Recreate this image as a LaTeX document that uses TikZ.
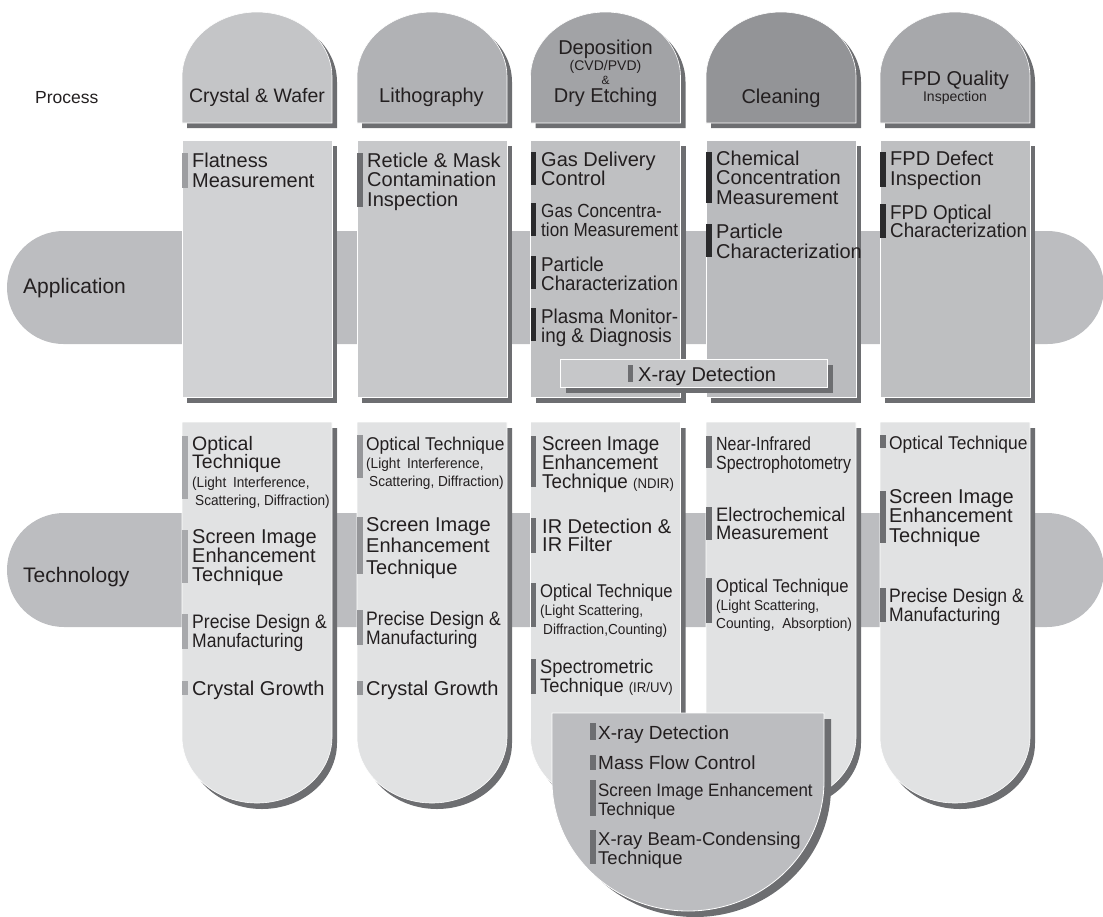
\documentclass[tikz,border=0pt]{standalone}
\usepackage{fontspec}
\setmainfont{Liberation Sans}
\newfontfamily\cnd[FakeStretch=0.9]{Liberation Sans}
\newfontfamily\cndb[FakeStretch=0.94]{Liberation Sans}
\newfontfamily\cndc[FakeStretch=0.84]{Liberation Sans}
\newcommand\fs[1]{\fontsize{#1}{#1}\selectfont}
\newcommand\blk[2]{\vtop{\baselineskip=#1pt\lineskiplimit=-100pt\relax#2}}
\newcommand\tline[1]{\hbox{#1}}
\newcommand\dome[4]{(#1,#4) -- (#1,#3+65) .. controls (#1,#3+29.1) and (#1+#2*0.2239,#3) .. (#1+#2*0.5,#3) .. controls (#1+#2*0.7761,#3) and (#1+#2,#3+29.1) .. (#1+#2,#3+65) -- (#1+#2,#4) -- cycle}
\newcommand\ushape[5]{(#1,#3) -- (#1,#4-#5) .. controls (#1,#4-0.4477*#5) and (#1+#2*0.2239,#4) .. (#1+#2*0.5,#4) .. controls (#1+#2*0.7761,#4) and (#1+#2,#4-0.4477*#5) .. (#1+#2,#4-#5) -- (#1+#2,#3) -- cycle}
\definecolor{ink}{HTML}{231F20}
\definecolor{shd}{HTML}{6D6E71}
\definecolor{band}{HTML}{BCBDC0}
\definecolor{hA}{HTML}{C4C5C7}
\definecolor{hB}{HTML}{B1B2B5}
\definecolor{hC}{HTML}{A2A3A6}
\definecolor{hD}{HTML}{939497}
\definecolor{hE}{HTML}{A7A8AB}
\definecolor{aA}{HTML}{D1D2D4}
\definecolor{aB}{HTML}{C7C8CA}
\definecolor{aC}{HTML}{BFC0C2}
\definecolor{aD}{HTML}{BABBBE}
\definecolor{aE}{HTML}{BEBFC1}
\definecolor{tcol}{HTML}{E1E2E3}
\definecolor{xbox}{HTML}{C6C7C9}
\definecolor{xdome}{HTML}{BCBDC0}
\definecolor{mA}{HTML}{9D9EA1}
\definecolor{mB}{HTML}{6D6E71}
\definecolor{mC}{HTML}{2A2A2C}
\definecolor{tA}{HTML}{A8A9AC}
\definecolor{tB}{HTML}{959699}
\definecolor{tC}{HTML}{6D6E71}
\begin{document}
\begin{tikzpicture}[x=1pt,y=-1pt,
  txt/.style={anchor=base west,inner sep=0pt,text=ink,font=\fs{20}},
  ctr/.style={anchor=base,inner sep=0pt,text=ink,font=\fs{20}},
  face/.style={draw=white,line width=0.6pt}]
\useasboundingbox (0,0) rectangle (1103,916);
% bands
\fill[band,rounded corners=56.5pt] (7,231) rectangle (1104,344);
\fill[band,rounded corners=57pt] (7,513) rectangle (1104,627);
% header domes
\fill[shd] \dome{187}{150}{17}{128};
\fill[hA,face] \dome{182}{150}{12}{123};
\fill[shd] \dome{362}{150}{17}{128};
\fill[hB,face] \dome{357}{150}{12}{123};
\fill[shd] \dome{535.5}{150}{17}{128};
\fill[hC,face] \dome{530.5}{150}{12}{123};
\fill[shd] \dome{711}{150}{17}{128};
\fill[hD,face] \dome{706}{150}{12}{123};
\fill[shd] \dome{885}{150}{17}{128};
\fill[hE,face] \dome{880}{150}{12}{123};
% application columns
\fill[shd] (187,146) rectangle (337,403);
\fill[aA,face] (182,140) rectangle (332,397);
\fill[shd] (362,146) rectangle (512,403);
\fill[aB,face] (357,140) rectangle (507,397);
\fill[shd] (535.5,146) rectangle (685.5,403);
\fill[aC,face] (530.5,140) rectangle (680.5,397);
\fill[shd] (711,146) rectangle (861,403);
\fill[aD,face] (706,140) rectangle (856,397);
\fill[shd] (885,146) rectangle (1035,403);
\fill[aE,face] (880,140) rectangle (1030,397);
% technology columns
\fill[shd] \ushape{187}{150}{428}{809}{66};
\fill[tcol,face] \ushape{182}{150}{422}{803}{66};
\fill[shd] \ushape{362}{150}{428}{809}{66};
\fill[tcol,face] \ushape{357}{150}{422}{803}{66};
\fill[shd] \ushape{535.5}{150}{428}{809}{66};
\fill[tcol,face] \ushape{530.5}{150}{422}{803}{66};
\fill[shd] \ushape{711}{150}{428}{809}{66};
\fill[tcol,face] \ushape{706}{150}{422}{803}{66};
\fill[shd] \ushape{885}{150}{428}{809}{66};
\fill[tcol,face] \ushape{880}{150}{422}{803}{66};
% x-ray box (application)
\fill[shd] (566,365) rectangle (833,393);
\fill[xbox,draw=white,line width=0.8pt] (560,359) rectangle (827,387);
% x-ray dome (technology)
\fill[shd] \ushape{559}{272}{719}{917}{130};
\fill[xdome,draw=white,line width=0.8pt] \ushape{552}{272}{713}{911}{130};
% header texts
\node[txt,font=\fs{17.5}] (proc) at (35,103) {Process};
\node[ctr,font=\fs{19.5}] (h1t) at (257,102) {Crystal \& Wafer};
\node[ctr] (h2t) at (431.5,102) {Lithography};
\node[ctr] (h3a) at (605.5,54) {Deposition};
\node[ctr,font=\fs{14}] (h3b) at (605.5,70.5) {(CVD/PVD)};
\node[ctr,font=\fs{12}] (h3c) at (605.5,84.5) {\&};
\node[ctr] (h3d) at (605.5,102) {Dry Etching};
\node[ctr] (h4t) at (781,103) {Cleaning};
\node[ctr] (h5a) at (955,85) {FPD Quality};
\node[ctr,font=\fs{14}] (h5b) at (955,101) {Inspection};
\node[txt,font=\fs{21}] (appl) at (23,293) {Application};
\node[txt,font=\fs{21}] (tech) at (23,582) {Technology};
% application col 1
\fill[mA] (182,153) rectangle (187.5,188);
\node[txt] (ap1a) at (192,167) {\blk{20}{\tline{Flatness}\tline{Measurement}}};
% application col 2
\fill[mB] (357,153) rectangle (362.5,207);
\node[txt] (ap2a) at (367,167) {\blk{19.7}{\tline{Reticle \& Mask}\tline{Contamination}\tline{Inspection}}};
% application col 3
\fill[mC] (530.5,152) rectangle (536,185);
\node[txt] (ap3a) at (541,166) {\blk{19.5}{\tline{Gas Delivery}\tline{Control}}};
\fill[mC] (530.5,203) rectangle (536,236);
\node[txt,font=\cnd\fs{19}] (ap3b) at (541,217) {\blk{19}{\tline{Gas Concentra-}\tline{tion Measurement}}};
\fill[mC] (530.5,256) rectangle (536,289);
\node[txt,font=\cndb\fs{20}] (ap3c) at (541,271) {\blk{19}{\tline{Particle}\tline{Characterization}}};
\fill[mC] (530.5,308) rectangle (536,341);
\node[txt,font=\cndb\fs{20}] (ap3d) at (541,323) {\blk{19}{\tline{Plasma Monitor-}\tline{ing \& Diagnosis}}};
% application col 4
\fill[mC] (706,152) rectangle (711.5,203);
\node[txt] (ap4a) at (716,165) {\blk{19.5}{\tline{Chemical}\tline{Concentration}\tline{Measurement}}};
\fill[mC] (706,224) rectangle (711.5,257);
\node[txt] (ap4b) at (716,238) {\blk{20}{\tline{Particle}\tline{Characterization}}};
% application col 5
\fill[mC] (880,152) rectangle (885.5,187);
\node[txt] (ap5a) at (890,165) {\blk{20}{\tline{FPD Defect}\tline{Inspection}}};
\fill[mC] (880,204) rectangle (885.5,238);
\node[txt,font=\cndb\fs{20}] (ap5b) at (890,219) {\blk{18.5}{\tline{FPD Optical}\tline{Characterization}}};
% application x-ray
\fill[mB] (628,365) rectangle (633,382);
\node[txt] (apx) at (638,381) {X-ray Detection};
% technology col 1
\fill[tA] (182,436) rectangle (187.5,499);
\node[txt,font=\fs{19.5}] (tc1a) at (192,450) {\blk{18.7}{\tline{Optical}\tline{Technique}}};
\node[txt,font=\cndb\fs{14.5}] (tc1b) at (192,487) {\blk{18}{\tline{(Light\hspace{3pt} Interference,}\tline{\hspace{3pt}Scattering, Diffraction)}}};
\fill[tA] (182,530) rectangle (187.5,583);
\node[txt] (tc1c) at (192,543) {\blk{19}{\tline{Screen Image}\tline{Enhancement}\tline{Technique}}};
\fill[tA] (182,614) rectangle (187.5,649);
\node[txt,font=\cnd\fs{19.5}] (tc1d) at (192,628) {\blk{19}{\tline{Precise Design \&}\tline{Manufacturing}}};
\fill[tA] (182,681) rectangle (187.5,695);
\node[txt] (tc1e) at (192,695) {Crystal Growth};
% technology col 2
\fill[tB] (357,435) rectangle (362.5,478);
\node[txt,font=\cndb\fs{18.5}] (tc2a) at (366,450) {Optical Technique};
\node[txt,font=\cndb\fs{14.5}] (tc2b) at (366,468) {\blk{18.5}{\tline{(Light\hspace{3pt} Interference,}\tline{\hspace{3pt}Scattering, Diffraction)}}};
\fill[tB] (357,517) rectangle (362.5,574);
\node[txt] (tc2c) at (366,531) {\blk{21.5}{\tline{Screen Image}\tline{Enhancement}\tline{Technique}}};
\fill[tB] (357,610) rectangle (362.5,645);
\node[txt,font=\cnd\fs{19.5}] (tc2d) at (366,625) {\blk{19}{\tline{Precise Design \&}\tline{Manufacturing}}};
\fill[tB] (357,681) rectangle (362.5,695);
\node[txt] (tc2e) at (366,695) {Crystal Growth};
% technology col 3
\fill[tC] (530.5,436) rectangle (536,487);
\node[txt,font=\cndb\fs{20}] (tc3a) at (542,450) {\blk{19}{\tline{Screen Image}\tline{Enhancement}\tline{Technique {\fs{14}(NDIR)}}}};
\fill[tC] (530.5,518) rectangle (536,553);
\node[txt] (tc3b) at (542,533) {\blk{18.5}{\tline{IR Detection \&}\tline{IR Filter}}};
\fill[tC] (530.5,583) rectangle (536,627);
\node[txt,font=\cnd\fs{18.5}] (tc3c) at (540,597) {Optical Technique};
\node[txt,font=\cndb\fs{14.5}] (tc3d) at (540,615) {\blk{19}{\tline{(Light Scattering,}\tline{\hspace{3pt}Diffraction,Counting)}}};
\fill[tC] (530.5,659) rectangle (536,694);
\node[txt,font=\cndb\fs{19.5}] (tc3e) at (540,673) {\blk{19}{\tline{Spectrometric}\tline{Technique {\fs{14}(IR/UV)}}}};
% technology col 4
\fill[tC] (706,436) rectangle (711.5,468);
\node[txt,font=\cndc\fs{19}] (tc4a) at (716,450) {\blk{19}{\tline{Near-Infrared}\tline{Spectrophotometry}}};
\fill[tC] (706,507) rectangle (711.5,540);
\node[txt,font=\cndb\fs{19.5}] (tc4b) at (716,521) {\blk{18.5}{\tline{Electrochemical}\tline{Measurement}}};
\fill[tC] (706,578) rectangle (711.5,623);
\node[txt,font=\cnd\fs{18.5}] (tc4c) at (716,592) {Optical Technique};
\node[txt,font=\cndb\fs{14.5}] (tc4d) at (716,610) {\blk{18}{\tline{(Light Scattering,}\tline{Counting,\hspace{4pt} Absorption)}}};
% technology col 5
\fill[tC] (880,435) rectangle (885.5,448);
\node[txt,font=\cndb\fs{18.5}] (tc5a) at (889,449) {Optical Technique};
\fill[tC] (880,491) rectangle (885.5,543);
\node[txt] (tc5b) at (889,503) {\blk{19.5}{\tline{Screen Image}\tline{Enhancement}\tline{Technique}}};
\fill[tC] (880,588) rectangle (885.5,622);
\node[txt,font=\cnd\fs{19.5}] (tc5c) at (889,602) {\blk{19}{\tline{Precise Design \&}\tline{Manufacturing}}};
% x-ray dome texts
\fill[tC] (590,723) rectangle (595.5,740);
\node[txt,font=\fs{19}] (xd1) at (598,739) {X-ray Detection};
\fill[tC] (590,755) rectangle (595.5,770);
\node[txt,font=\fs{19}] (xd2) at (598,769) {Mass Flow Control};
\fill[tC] (590,780) rectangle (595.5,816);
\node[txt,font=\cndb\fs{18}] (xd3) at (598,796) {\blk{19}{\tline{Screen Image Enhancement}\tline{Technique}}};
\fill[tC] (590,830) rectangle (595.5,864);
\node[txt,font=\fs{18.5}] (xd4) at (598,845) {\blk{19}{\tline{X-ray Beam-Condensing}\tline{Technique}}};
\end{tikzpicture}
\end{document}
